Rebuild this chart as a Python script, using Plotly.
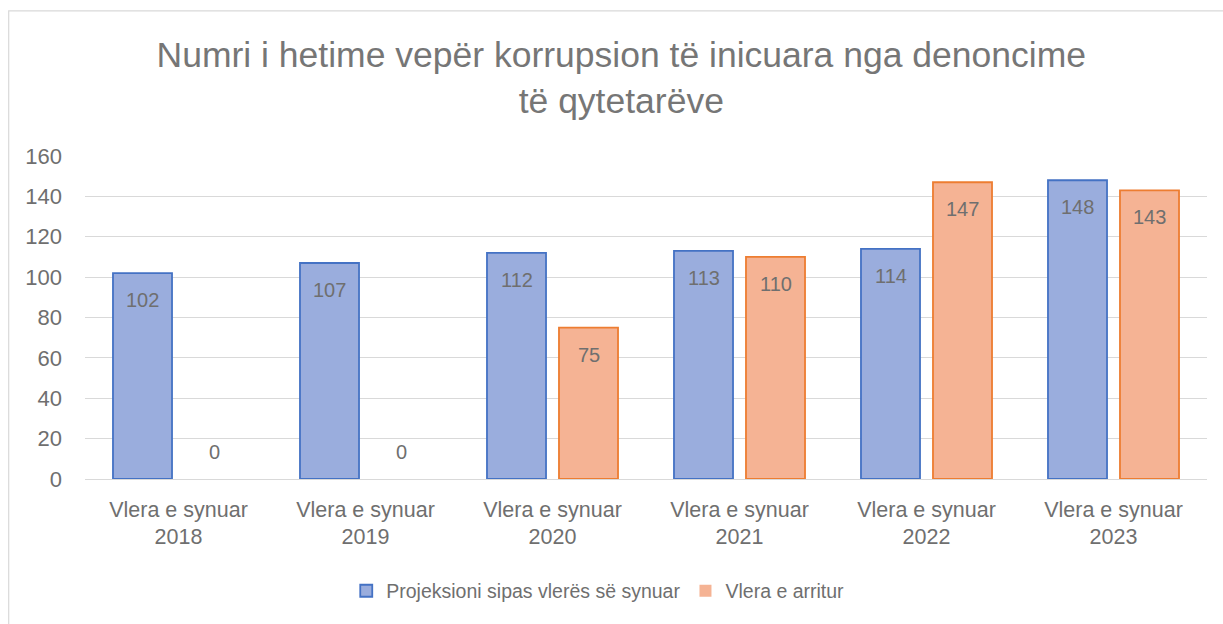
import plotly.graph_objects as go

categories = ["Vlera e synuar<br>2018", "Vlera e synuar<br>2019", "Vlera e synuar<br>2020",
              "Vlera e synuar<br>2021", "Vlera e synuar<br>2022", "Vlera e synuar<br>2023"]
projeksioni = [102, 107, 112, 113, 114, 148]
arritur = [0, 0, 75, 110, 147, 143]
series_names = ["Projeksioni sipas vlerës së synuar", "Vlera e arritur"]
title_text = "Numri i hetime vepër korrupsion të inicuara nga denoncime<br>të qytetarëve"

FONT = "Liberation Sans"
GREY = "#6f6f6f"

fig = go.Figure()
fig.add_trace(go.Bar(
    x=categories, y=projeksioni, name=series_names[0],
    marker=dict(color="#9AADDD",
                line=dict(color="#4472C4", width=[1.8 if v > 0 else 0 for v in projeksioni])),
))
fig.add_trace(go.Bar(
    x=categories, y=arritur, name=series_names[1],
    marker=dict(color="#F5B394",
                line=dict(color="#ED7D31", width=[1.8 if v > 0 else 0 for v in arritur])),
))

# data labels (inside end, Excel style)
for vals, shift in ((projeksioni, -36), (arritur, 36)):
    for c, v in zip(categories, vals):
        fig.add_annotation(
            x=c, y=v, xref="x", yref="y", text=str(v), showarrow=False,
            xshift=shift, yshift=(-27 if v > 0 else 27),
            font=dict(family=FONT, size=20, color=GREY),
        )

# chart border (left and top edges visible in the crop)
fig.add_shape(type="path", xref="paper", yref="paper",
              path="M -0.068,-1.0 L -0.068,1.449 L 1.2,1.449",
              line=dict(color="#D9D9D9", width=1.2), layer="below")

fig.update_layout(
    width=1223, height=624,
    margin=dict(l=85, r=16, t=156, b=145, autoexpand=False),
    paper_bgcolor="white", plot_bgcolor="white",
    barmode="group", bargap=0.23, bargroupgap=0.18,
    title=dict(text=title_text, x=0.508, xanchor="center", y=0.893, yanchor="top",
               font=dict(family=FONT, size=35.5, color="#767676")),
    font=dict(family=FONT, color=GREY),
    legend=dict(orientation="h", x=0.457, xanchor="center", y=-0.347, yanchor="middle",
                font=dict(family=FONT, size=19.5, color=GREY), itemwidth=30,
                traceorder="normal"),
    xaxis=dict(tickfont=dict(family=FONT, size=21.5, color=GREY), showgrid=False,
               ticks="", showline=False, ticklabelstandoff=15, automargin=False),
    yaxis=dict(range=[0, 160], dtick=20, tickfont=dict(family=FONT, size=22, color=GREY),
               showgrid=True, gridcolor="#D9D9D9", gridwidth=1.3,
               zeroline=True, zerolinecolor="#D9D9D9", zerolinewidth=1.3,
               ticks="", showline=False, ticklabelstandoff=22, automargin=False),
)

fig.write_html("out.html", post_script="document.body.style.margin='0';",
               config={"displayModeBar": False})
